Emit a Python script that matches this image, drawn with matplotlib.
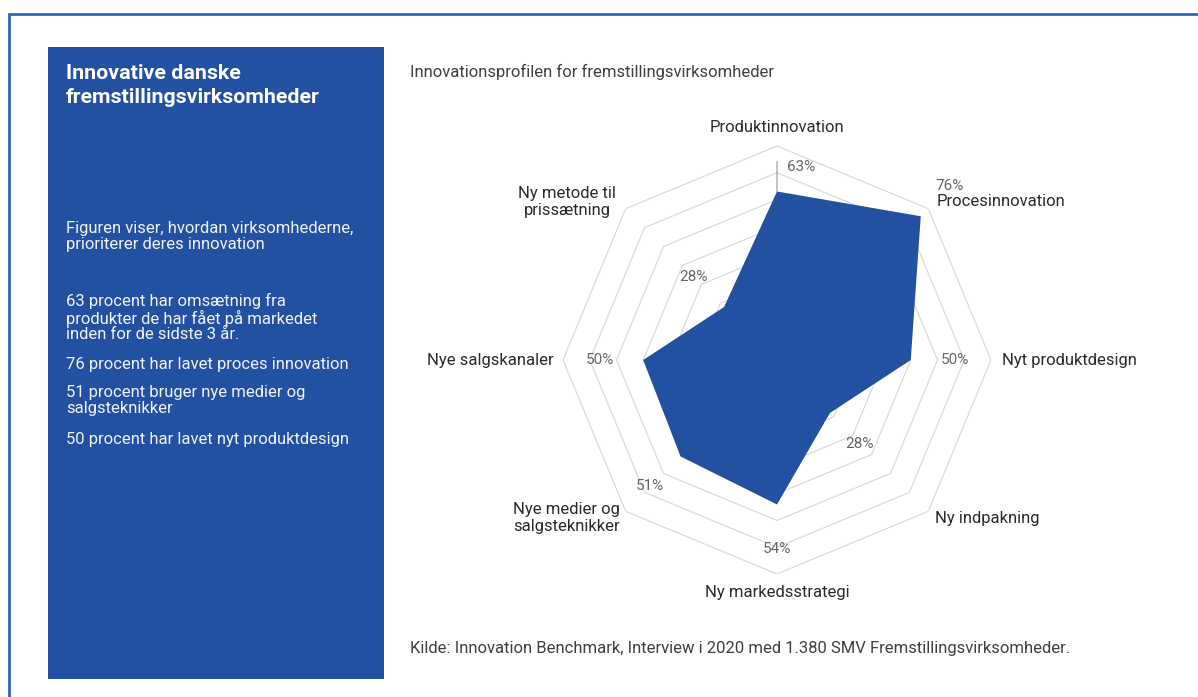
import numpy as np
import matplotlib
matplotlib.use("Agg")
import matplotlib.pyplot as plt
from matplotlib.patches import Rectangle

# ---- data ----
categories = [
    "Produktinnovation",
    "Procesinnovation",
    "Nyt produktdesign",
    "Ny indpakning",
    "Ny markedsstrategi",
    "Nye medier og\nsalgsteknikker",
    "Nye salgskanaler",
    "Ny metode til\nprissætning",
]
values = [63, 76, 50, 28, 54, 51, 50, 28]
ring_levels = [10, 20, 30, 40, 50, 60, 70, 80]
r_max = 80

chart_title = "Innovationsprofilen for fremstillingsvirksomheder"
source_note = "Kilde: Innovation Benchmark, Interview i 2020 med 1.380 SMV Fremstillingsvirksomheder."
panel_title = "Innovative danske\nfremstillingsvirksomheder"
panel_intro = "Figuren viser, hvordan virksomhederne,\nprioriterer deres innovation"
panel_facts = [
    "63 procent har omsætning fra\nprodukter de har fået på markedet\ninden for de sidste 3 år.",
    "76 procent har lavet proces innovation",
    "51 procent bruger nye medier og\nsalgsteknikker",
    "50 procent har lavet nyt produktdesign",
]

# ---- style ----
BLUE = "#2251A1"
FRAME = "#2F66B8"
GRID = "#d6d6d6"
TXT = "#2b2b2b"
PCT = "#666666"
plt.rcParams["font.family"] = ["Roboto", "DejaVu Sans"]

W, H = 1198, 697
fig = plt.figure(figsize=(W / 100, H / 100), dpi=100)
fig.patch.set_facecolor("white")


def fx(x):
    return x / W


def fy(y):
    return 1 - y / H


# outer frame line
fig.patches.append(Rectangle((fx(9), fy(760)), fx(1300), 746 / H, transform=fig.transFigure,
                             fill=False, edgecolor=FRAME, lw=2.0))

# left info panel
fig.patches.append(Rectangle((fx(48), fy(679)), fx(384 - 48), (679 - 47) / H,
                             transform=fig.transFigure, facecolor=BLUE, edgecolor="none"))
fig.text(fx(66), fy(64), panel_title, color="white", fontsize=15.4, fontweight="bold",
         va="top", ha="left", linespacing=1.32)
fig.text(fx(66), fy(221), panel_intro, color="#eef1f8", fontsize=12, va="top", ha="left",
         linespacing=1.1)
fact_tops = [293, 357, 385, 432]
for top, txt in zip(fact_tops, panel_facts):
    fig.text(fx(66), fy(top), txt, color="#eef1f8", fontsize=12, va="top", ha="left",
             linespacing=1.05)

# titles
fig.text(fx(410), fy(72), chart_title, color="#404040", fontsize=12, va="center", ha="left")
fig.text(fx(410), fy(649), source_note, color="#404040", fontsize=12, va="center", ha="left")

# ---- radar ----
cx, cy, rad = 777, 360, 214
ax = fig.add_axes([fx(cx - rad), fy(cy + rad), 2 * rad / W, 2 * rad / H], projection="polar")
ax.set_theta_offset(np.pi / 2)
ax.set_theta_direction(-1)
ax.set_ylim(0, r_max)
ax.grid(False)
ax.set_xticks([])
ax.set_yticks([])
ax.spines["polar"].set_visible(False)
ax.patch.set_alpha(0)

n = len(categories)
theta = np.linspace(0, 2 * np.pi, n, endpoint=False)
theta_c = np.append(theta, theta[0])

for lvl in ring_levels:
    ax.plot(theta_c, [lvl] * (n + 1), color=GRID, lw=0.8, zorder=1)

ax.fill(theta_c, values + values[:1], color=BLUE, lw=0, zorder=2)

# value labels: offset in pixels from each vertex
pct_offsets = [(24, 24), (29, 30), (44, 0), (30, -31), (0, -45), (-31, -30), (-43, 0), (-31, 30)]
for i, (v, off) in enumerate(zip(values, pct_offsets)):
    ax.annotate(f"{v}%", xy=(theta[i], v), xytext=off, textcoords="offset pixels",
                ha="center", va="center", fontsize=11, color=PCT, zorder=3,
                annotation_clip=False)
# leader line for the top value
ax.annotate("", xy=(theta[0], values[0]), xytext=(0, 30), textcoords="offset pixels",
            arrowprops=dict(arrowstyle="-", color="#888888", lw=0.7,
                            shrinkA=0, shrinkB=0), annotation_clip=False)

# category labels (pixel positions)
cat_pos = [
    (777, 127, "center"),
    (937, 202, "left"),
    (1002, 360, "left"),
    (935, 518, "left"),
    (777, 593, "center"),
    (566, 518, "center"),
    (554, 360, "right"),
    (567, 202, "center"),
]
for name, (x, y, ha) in zip(categories, cat_pos):
    fig.text(fx(x), fy(y), name, ha=ha, va="center", fontsize=12, color=TXT,
             linespacing=1.1)

fig.savefig("out.png", dpi=100)
